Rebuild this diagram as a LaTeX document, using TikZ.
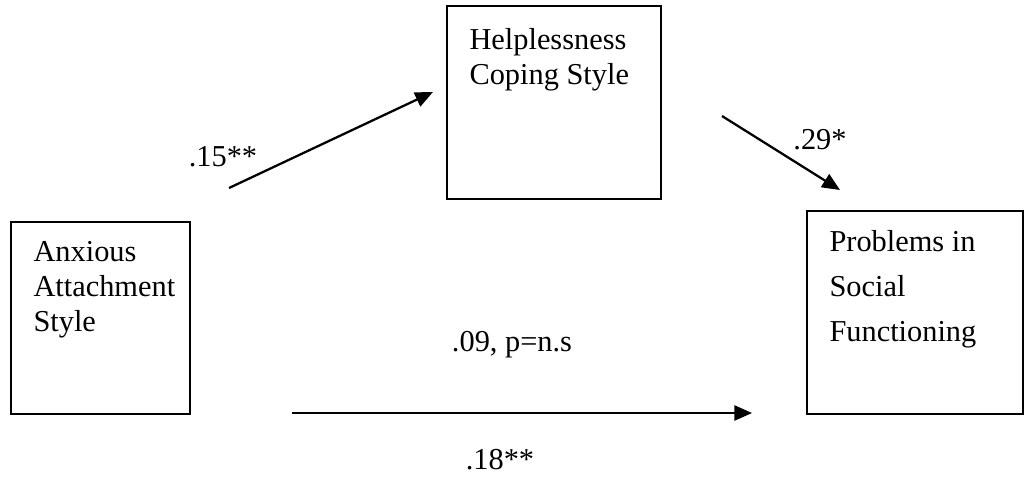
\documentclass[tikz,border=0pt]{standalone}
\usepackage{fontspec}
\setmainfont{Liberation Serif}
\usetikzlibrary{arrows.meta,positioning,calc,fit}

\begin{document}
\begin{tikzpicture}[x=0.01389cm, y=-0.01389cm,
  boite/.style={draw, line width=0.6pt, inner sep=0pt},
  texte/.style={anchor=north west, align=left, inner sep=0pt},
  fleche/.style={line width=0.9pt, -{Triangle[length=7pt,width=6pt]}},
  coef/.style={inner sep=0pt, font=\fontsize{12}{14}\selectfont}]
  \useasboundingbox (0,0) rectangle (1025,488);
  % Boîtes
  \node[boite, fit={(11,222) (190,414)}] (anx) {};
  \node[boite, fit={(447,6) (661,199)}] (help) {};
  \node[boite, fit={(807,211) (1023,414)}] (prob) {};
  % Textes des boîtes
  \node[texte, font=\fontsize{12}{13.8}\selectfont] (anxtxt) at (33,241)
    {Anxious\\Attachment\\Style};
  \node[texte, font=\fontsize{12}{13.8}\selectfont] (helptxt) at (469,28)
    {Helplessness\\Coping Style};
  \node[texte, font=\fontsize{12}{17.8}\selectfont] (probtxt) at (829,230)
    {Problems in\\Social\\Functioning};
  % Extrémités des flèches
  \coordinate (a1s) at (229,188);
  \coordinate (a1e) at (433,92);
  \coordinate (a2s) at (722,116);
  \coordinate (a2e) at (840,190);
  \coordinate (a3s) at (292,413);
  \coordinate (a3e) at (752,413);
  % Flèches
  \draw[fleche] (a1s) -- (a1e);
  \draw[fleche] (a2s) -- (a2e);
  \draw[fleche] (a3s) -- (a3e);
  % Coefficients
  \node[coef] (c1) at (223,157) {.15**};
  \node[coef] (c2) at (820,140) {.29*};
  \node[coef] (c3) at (512,345) {.09, p=n.s};
  \node[coef] (c4) at (500,460) {.18**};
\end{tikzpicture}
\end{document}
